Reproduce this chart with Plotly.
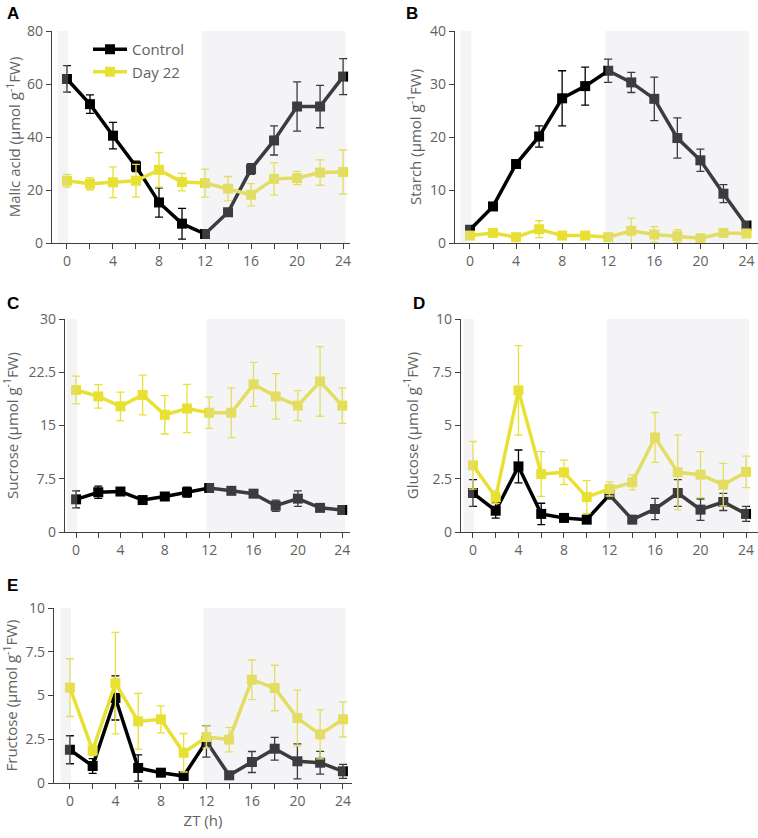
import plotly.graph_objects as go

zt = [0, 2, 4, 6, 8, 10, 12, 14, 16, 18, 20, 22, 24]

malic_ctrl = [61.9, 52.4, 40.5, 28.9, 15.3, 7.3, 3.4, 11.6, 27.9, 38.7, 51.5, 51.5, 62.8]
malic_ctrl_err = [5.0, 3.5, 5.0, 2.0, 5.5, 5.8, 1.5, 1.0, 2.0, 5.5, 9.3, 8.0, 6.8]
malic_d22 = [23.5, 22.4, 22.9, 23.5, 27.6, 23.0, 22.6, 20.5, 18.2, 24.2, 24.5, 26.6, 26.8]
malic_d22_err = [2.4, 2.3, 5.8, 6.2, 6.5, 3.3, 5.3, 4.6, 4.2, 6.1, 2.5, 4.8, 8.3]

starch_ctrl = [2.5, 6.9, 14.9, 20.1, 27.3, 29.6, 32.5, 30.3, 27.2, 19.8, 15.6, 9.3, 3.3]
starch_ctrl_err = [0.3, 0.5, 0.5, 2.0, 5.2, 3.6, 2.2, 1.9, 4.1, 3.8, 2.1, 1.7, 0.3]
starch_d22 = [1.4, 1.9, 1.1, 2.6, 1.4, 1.4, 1.1, 2.3, 1.6, 1.3, 0.9, 1.9, 1.8]
starch_d22_err = [0.3, 0.3, 0.3, 1.6, 0.3, 0.3, 0.3, 2.4, 1.5, 1.2, 0.3, 0.5, 0.4]

sucrose_ctrl = [4.6, 5.6, 5.7, 4.5, 5.0, 5.6, 6.2, 5.8, 5.4, 3.7, 4.7, 3.4, 3.1]
sucrose_ctrl_err = [1.2, 0.85, 0.4, 0.3, 0.3, 0.7, 0.3, 0.3, 0.4, 0.8, 1.1, 0.2, 0.3]
sucrose_d22 = [20.0, 19.1, 17.7, 19.3, 16.5, 17.4, 16.8, 16.8, 20.8, 19.1, 17.8, 21.2, 17.8]
sucrose_d22_err = [1.95, 1.65, 2.0, 2.8, 2.7, 3.4, 2.2, 3.5, 3.1, 3.2, 2.1, 4.9, 2.5]

glucose_ctrl = [1.83, 1.0, 3.08, 0.85, 0.66, 0.58, 1.75, 0.58, 1.08, 1.83, 1.05, 1.41, 0.85]
glucose_ctrl_err = [0.63, 0.35, 0.77, 0.5, 0.1, 0.1, 0.15, 0.1, 0.5, 0.63, 0.5, 0.4, 0.35]
glucose_d22 = [3.13, 1.63, 6.65, 2.72, 2.8, 1.64, 2.02, 2.33, 4.44, 2.8, 2.69, 2.22, 2.82]
glucose_d22_err = [1.12, 0.3, 2.1, 1.05, 0.57, 0.77, 0.33, 0.35, 1.17, 1.76, 1.08, 1.0, 0.74]

fructose_ctrl = [1.9, 0.97, 4.86, 0.86, 0.59, 0.4, 2.38, 0.44, 1.2, 1.96, 1.24, 1.16, 0.67]
fructose_ctrl_err = [0.8, 0.42, 1.26, 0.75, 0.1, 0.1, 0.9, 0.1, 0.6, 0.65, 1.0, 0.65, 0.4]
fructose_d22 = [5.45, 1.87, 5.71, 3.52, 3.64, 1.73, 2.63, 2.48, 5.9, 5.43, 3.71, 2.78, 3.64]
fructose_d22_err = [1.65, 0.3, 2.9, 1.6, 0.77, 1.1, 0.64, 0.7, 1.13, 1.3, 1.6, 1.4, 1.0]

x_ticks = [0, 4, 8, 12, 16, 20, 24]
series_names = ["Control", "Day 22"]

W, H = 758, 838
BLACK = "#000000"
YELLOW = "#E8E134"
GREY_TXT = "#626262"
AXIS = "#404040"
FONT = "Open Sans"

panels = [
    dict(key="A", px=(52, 350, 31, 243), xr=(-1.3, 24.6), yr=(0, 80),
         yt=[0, 20, 40, 60, 80], ytt=["0", "20", "40", "60", "80"],
         title="Malic acid (µmol g<sup>-1</sup>FW)", so=2,
         ctrl=(malic_ctrl, malic_ctrl_err), d22=(malic_d22, malic_d22_err), lab=(5, 2), xtitle=False),
    dict(key="B", px=(455, 758, 31, 243), xr=(-1.3, 25.0), yr=(0, 40),
         yt=[0, 10, 20, 30, 40], ytt=["0", "10", "20", "30", "40"],
         title="Starch (µmol g<sup>-1</sup>FW)", so=4,
         ctrl=(starch_ctrl, starch_ctrl_err), d22=(starch_d22, starch_d22_err), lab=(404, 2), xtitle=False),
    dict(key="C", px=(65, 350, 319, 532), xr=(-1.0, 24.7), yr=(0, 30),
         yt=[0, 7.5, 15, 22.5, 30], ytt=["0", "7.5", "15", "22.5", "30"],
         title="Sucrose (µmol g<sup>-1</sup>FW)", so=6,
         ctrl=(sucrose_ctrl, sucrose_ctrl_err), d22=(sucrose_d22, sucrose_d22_err), lab=(5, 292), xtitle=False),
    dict(key="D", px=(461, 758, 319, 532), xr=(-1.05, 25.05), yr=(0, 10),
         yt=[0, 2.5, 5, 7.5, 10], ytt=["0", "2.5", "5", "7.5", "10"],
         title="Glucose (µmol g<sup>-1</sup>FW)", so=10,
         ctrl=(glucose_ctrl, glucose_ctrl_err), d22=(glucose_d22, glucose_d22_err), lab=(411, 292), xtitle=False),
    dict(key="E", px=(54, 352, 608, 783), xr=(-1.4, 24.8), yr=(0, 10),
         yt=[0, 2.5, 5, 7.5, 10], ytt=["0", "2.5", "5", "7.5", "10"],
         title="Fructose (µmol g<sup>-1</sup>FW)", so=12,
         ctrl=(fructose_ctrl, fructose_ctrl_err), d22=(fructose_d22, fructose_d22_err), lab=(5, 574), xtitle=True),
]

fig = go.Figure()
layout = {}
shapes = []
annotations = []

for i, p in enumerate(panels):
    n = "" if i == 0 else str(i + 1)
    xa, ya = "x" + n, "y" + n
    x0, x1, yt0, yb0 = p["px"]
    layout["xaxis" + n] = dict(
        domain=[x0 / W, x1 / W], range=list(p["xr"]), anchor=ya, automargin=False,
        tickvals=x_ticks, ticks="outside", ticklen=5, tickwidth=1, tickcolor=AXIS,
        minor=dict(ticks="outside", dtick=2, tick0=0, ticklen=5, tickwidth=1, tickcolor=AXIS),
        showline=True, linecolor=AXIS, linewidth=1.2, showgrid=False, zeroline=False,
        tickfont=dict(family=FONT, size=14, color=GREY_TXT),
        title=dict(text="ZT (h)", font=dict(family=FONT, size=15, color=GREY_TXT), standoff=6) if p["xtitle"] else None,
    )
    layout["yaxis" + n] = dict(
        domain=[1 - yb0 / H, 1 - yt0 / H], range=list(p["yr"]), anchor=xa, automargin=False,
        tickvals=p["yt"], ticktext=p["ytt"], ticks="outside", ticklen=5, tickwidth=1, tickcolor=AXIS,
        showline=True, linecolor=AXIS, linewidth=1.2, showgrid=False, zeroline=False,
        tickfont=dict(family=FONT, size=14, color=GREY_TXT),
        title=dict(text=p["title"], font=dict(family=FONT, size=15, color=GREY_TXT), standoff=p["so"]),
    )
    for (vals, err), name, col in [(p["ctrl"], series_names[0], BLACK),
                                   (p["d22"], series_names[1], YELLOW)]:
        fig.add_trace(go.Scatter(
            x=zt, y=vals, xaxis=xa, yaxis=ya, name=name, mode="lines+markers",
            line=dict(color=col, width=3.5),
            marker=dict(symbol="square", size=10, color=col),
            error_y=dict(type="data", array=err, visible=True, color=col, thickness=1.3, width=4),
            showlegend=(i == 0),
        ))
    for sx0, sx1 in [(-0.8, 0.1), (11.75, 24.25)]:
        shapes.append(dict(type="rect", xref=xa, yref=ya, x0=sx0, x1=sx1,
                           y0=p["yr"][0], y1=p["yr"][1], line=dict(width=0),
                           fillcolor="rgba(215,215,222,0.28)", layer="above"))
    annotations.append(dict(text="<b>" + p["key"] + "</b>", xref="paper", yref="paper",
                            x=p["lab"][0] / W, y=1 - p["lab"][1] / H, xanchor="left", yanchor="top",
                            showarrow=False, font=dict(family="Liberation Sans", size=17, color="#000000")))

fig.update_layout(
    template="none",
    width=W, height=H, margin=dict(l=0, r=0, t=0, b=0, autoexpand=False),
    paper_bgcolor="white", plot_bgcolor="white",
    shapes=shapes, annotations=annotations,
    legend=dict(x=88 / W, y=1 - 33 / H, xanchor="left", yanchor="top",
                bgcolor="rgba(0,0,0,0)", font=dict(family=FONT, size=15, color=GREY_TXT),
                tracegroupgap=0, itemwidth=34),
    showlegend=True,
    **layout,
)

fig.write_html("out.html", config={"displayModeBar": False},
               post_script="document.body.style.margin='0px';")
